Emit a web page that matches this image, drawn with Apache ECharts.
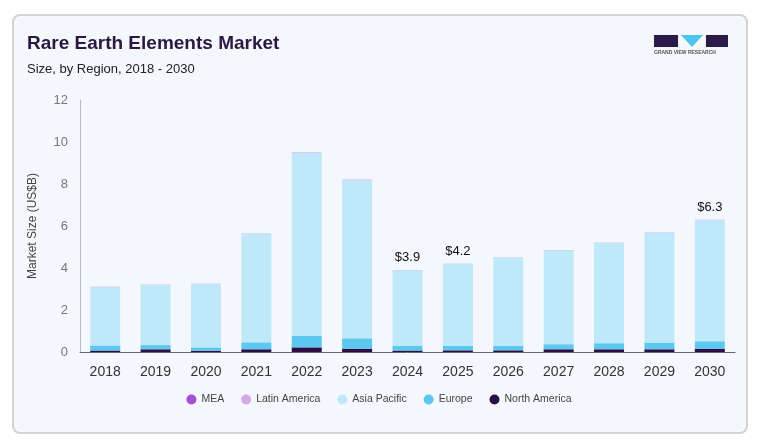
<!DOCTYPE html>
<html><head><meta charset="utf-8">
<script src="https://cdn.jsdelivr.net/npm/echarts@6/dist/echarts.min.js"></script>
<style>
html,body{margin:0;padding:0;background:#fff;}
#card{position:absolute;left:12px;top:14px;width:736px;height:420px;border:2px solid #d3d3d3;border-radius:8px;background:#f4f7fb;box-sizing:border-box;}
#c{position:absolute;left:0;top:0;width:758px;height:445px;}
</style></head><body>
<div id="card"></div>
<div id="c"></div>
<script>
const years = ['2018','2019','2020','2021','2022','2023','2024','2025','2026','2027','2028','2029','2030'];
const totals = [3.1, 3.2, 3.25, 5.65, 9.5, 8.2, 3.9, 4.2, 4.5, 4.85, 5.2, 5.7, 6.3];
const northAmerica = [0.07, 0.13, 0.06, 0.13, 0.22, 0.16, 0.07, 0.08, 0.08, 0.13, 0.13, 0.13, 0.16];
const europe = [0.24, 0.2, 0.16, 0.33, 0.56, 0.49, 0.22, 0.22, 0.22, 0.24, 0.29, 0.32, 0.35];
const latinAmerica = [0.005, 0.005, 0.005, 0.005, 0.01, 0.01, 0.005, 0.005, 0.005, 0.005, 0.005, 0.005, 0.005];
const mea = [0.005, 0.005, 0.005, 0.005, 0.01, 0.01, 0.005, 0.005, 0.005, 0.005, 0.005, 0.005, 0.005];
const asiaPacific = totals.map((t,i)=>+(t - northAmerica[i] - europe[i] - latinAmerica[i] - mea[i]).toFixed(3));
const labelled = {'2024':'$3.9','2025':'$4.2','2030':'$6.3'};
const yTicks = [0,2,4,6,8,10,12];

const chart = echarts.init(document.getElementById('c'), null, {renderer:'canvas'});
const font = 'Liberation Sans, Arial, sans-serif';
function s(name, data, color, top){
  return {name, type:'bar', stack:'t', data, barWidth:30,
    itemStyle:{color},
    label: top ? {show:true, position:'top', distance:6, color:'#111', fontSize:13, fontFamily:font,
      formatter:p=>labelled[p.name]||''} : {show:false},
    emphasis:{disabled:true}};
}
chart.setOption({
  animation:false,
  textStyle:{fontFamily:font},
  title:[{text:'Rare Earth Elements Market', left:22, top:29, textStyle:{fontSize:19, fontWeight:'bold', color:'#2a1840', fontFamily:font}},
         {text:'Size, by Region, 2018 - 2030', left:22, top:58, textStyle:{fontSize:13, fontWeight:'normal', color:'#222', fontFamily:font}}],
  legend:{bottom:35, left:'center', itemWidth:10, itemHeight:10, itemGap:17, icon:'circle',
    data:['MEA','Latin America','Asia Pacific','Europe','North America'],
    textStyle:{fontSize:10.5, color:'#444', fontFamily:font}},
  grid:{left:80, right:23, top:100, bottom:93},
  xAxis:{type:'category', data:years, axisTick:{show:false},
    axisLine:{lineStyle:{color:'#666', width:1}},
    axisLabel:{fontSize:14, color:'#333', margin:13, fontFamily:font}},
  yAxis:{type:'value', min:0, max:12, interval:2, name:'Market Size (US$B)', nameLocation:'middle', nameGap:41,
    nameTextStyle:{fontSize:12, color:'#444', fontFamily:font},
    axisLine:{show:true, lineStyle:{color:'#bbb'}}, axisTick:{show:false}, splitLine:{show:false},
    axisLabel:{fontSize:13, color:'#777', margin:12, fontFamily:font,
      formatter:v=>yTicks.includes(v)?String(v):''}},
  series:[
    s('North America', northAmerica, '#2c0e45'),
    s('Europe', europe, '#5cc8ef'),
    s('Asia Pacific', asiaPacific, '#bfe8f9'),
    s('Latin America', latinAmerica, '#d5a8e8'),
    s('MEA', mea, '#a64fd2', true)
  ],
  graphic:[
    {type:'rect', shape:{x:654,y:35,width:24,height:12}, style:{fill:'#2c1a4a'}},
    {type:'polygon', shape:{points:[[681,35],[703,35],[692,47]]}, style:{fill:'#4cc4ef'}},
    {type:'rect', shape:{x:706,y:35,width:22,height:12}, style:{fill:'#2c1a4a'}},
    {type:'text', style:{x:654, y:50, text:'GRAND VIEW RESEARCH', fontSize:5, fontWeight:'bold', fill:'#555', fontFamily:font}}
  ]
});
</script></body></html>
